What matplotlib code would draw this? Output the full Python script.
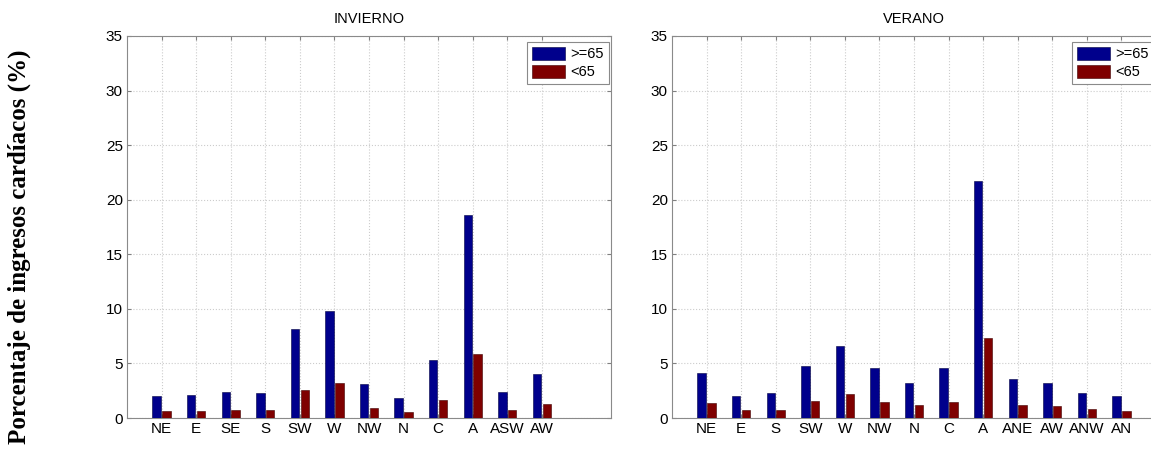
import numpy as np
import matplotlib
matplotlib.use("Agg")
import matplotlib.pyplot as plt

# ---------- Data ----------
winter_types = ['NE', 'E', 'SE', 'S', 'SW', 'W', 'NW', 'N', 'C', 'A', 'ASW', 'AW']
winter_old = [2.0, 2.1, 2.4, 2.3, 8.2, 9.8, 3.1, 1.85, 5.35, 18.6, 2.4, 4.0]
winter_young = [0.65, 0.6, 0.75, 0.75, 2.55, 3.25, 0.9, 0.55, 1.65, 5.85, 0.75, 1.3]

summer_types = ['NE', 'E', 'S', 'SW', 'W', 'NW', 'N', 'C', 'A', 'ANE', 'AW', 'ANW', 'AN']
summer_old = [4.1, 2.05, 2.3, 4.8, 6.6, 4.55, 3.2, 4.55, 21.7, 3.6, 3.2, 2.3, 2.0]
summer_young = [1.35, 0.7, 0.75, 1.55, 2.2, 1.5, 1.15, 1.45, 7.3, 1.2, 1.1, 0.8, 0.65]

legend_labels = ['>=65', '<65']
blue = '#00008c'
red = '#7f0000'

plt.rcParams['font.family'] = ['Liberation Sans', 'DejaVu Sans']

fig = plt.figure(figsize=(11.51, 4.57), dpi=100)
W, H = 1151, 457
ax1 = fig.add_axes([127 / W, 39 / H, 484 / W, 382 / H])
ax2 = fig.add_axes([672 / W, 39 / H, 484 / W, 382 / H])


def draw_panel(ax, types, old, young, title):
    x = np.arange(1, len(types) + 1)
    w = 0.245
    ax.bar(x - 0.143, old, width=w, color=blue, edgecolor='#000040',
           linewidth=0.4, label=legend_labels[0], zorder=3)
    ax.bar(x + 0.143, young, width=w, color=red, edgecolor='#400000',
           linewidth=0.4, label=legend_labels[1], zorder=3)
    ax.set_xlim(0, 14)
    ax.set_ylim(0, 35)
    ax.set_xticks(x)
    ax.set_xticklabels(types, fontsize=11)
    ax.set_yticks(np.arange(0, 36, 5))
    ax.tick_params(axis='y', labelsize=11)
    ax.tick_params(direction='in', length=3, top=True, right=True,
                   color='#808080', pad=3)
    ax.grid(True, linestyle=':', color='#cccccc', linewidth=0.8, zorder=0)
    for s in ax.spines.values():
        s.set_color('#8a8a8a')
        s.set_linewidth(0.8)
    ax.set_title(title, fontsize=10.5, pad=9)
    leg = ax.legend(loc='upper right', bbox_to_anchor=(1 - 2 / 484, 1 - 6 / 382),
                    borderaxespad=0, fontsize=10.5, handlelength=2.3,
                    handleheight=0.95, fancybox=False, framealpha=1,
                    edgecolor='#8a8a8a', borderpad=0.35, labelspacing=0.25,
                    handletextpad=0.35)
    leg.get_frame().set_linewidth(0.8)


draw_panel(ax1, winter_types, winter_old, winter_young, 'INVIERNO')
draw_panel(ax2, summer_types, summer_old, summer_young, 'VERANO')

fig.text(19 / W, 0.46, 'Porcentaje de ingresos cardíacos (%)', rotation=90,
         ha='center', va='center', fontsize=18, fontweight='bold',
         family=['Liberation Serif', 'DejaVu Serif'])

fig.savefig('out.png', dpi=100)
